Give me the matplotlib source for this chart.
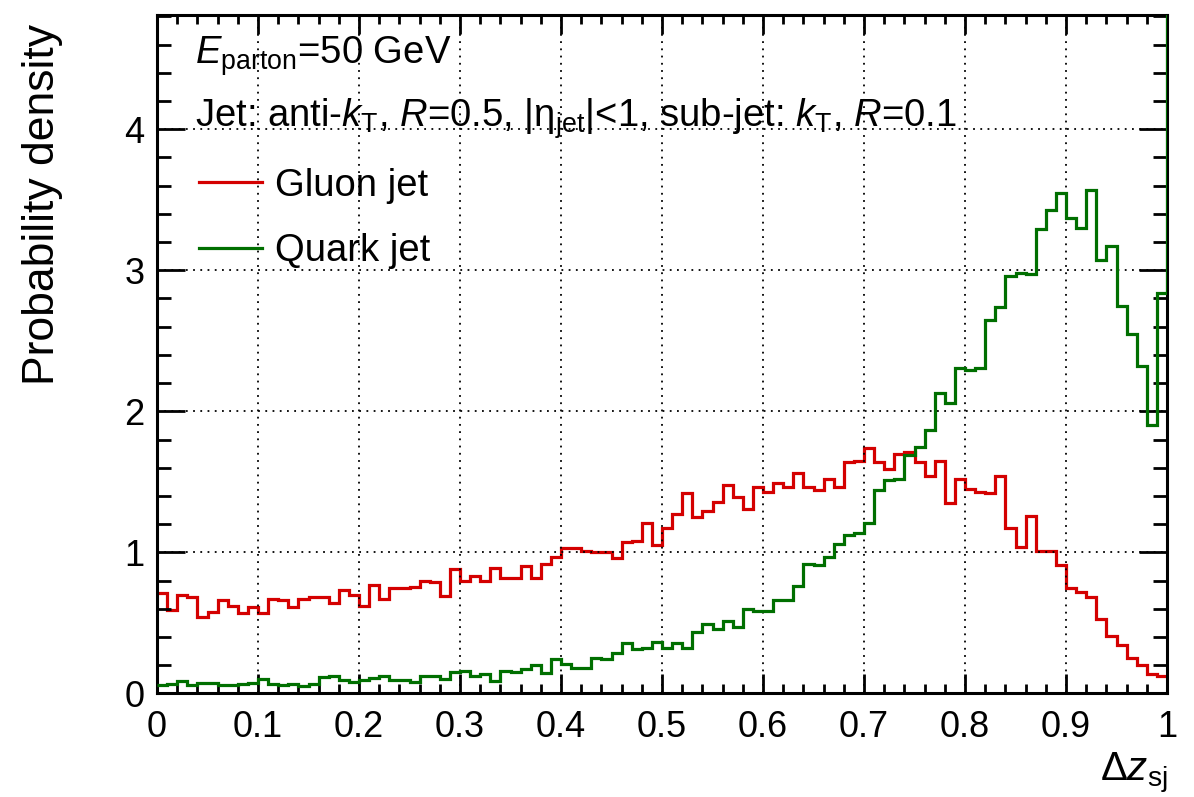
import numpy as np
import matplotlib.pyplot as plt
from matplotlib.ticker import MultipleLocator

plt.rcParams['font.family'] = 'Liberation Sans'
plt.rcParams['mathtext.fontset'] = 'custom'
plt.rcParams['mathtext.rm'] = 'Liberation Sans'
plt.rcParams['mathtext.it'] = 'Liberation Sans:italic'
plt.rcParams['mathtext.bf'] = 'Liberation Sans:bold'

# dz_sj in 100 bins of 0.01; the quark histogram keeps its overflow bin at dz_sj = 1
edges = np.linspace(0, 1.01, 102)

gluon = [0.71, 0.59, 0.70, 0.68, 0.54, 0.58, 0.66, 0.62, 0.57, 0.61,
         0.57, 0.67, 0.66, 0.61, 0.67, 0.68, 0.68, 0.64, 0.73, 0.70,
         0.62, 0.77, 0.67, 0.75, 0.745, 0.756, 0.80, 0.79, 0.69, 0.88,
         0.80, 0.83, 0.80, 0.89, 0.82, 0.82, 0.90, 0.82, 0.92, 0.97,
         1.03, 1.03, 1.01, 1.00, 1.00, 0.96, 1.07, 1.08, 1.21, 1.05,
         1.17, 1.27, 1.42, 1.25, 1.29, 1.36, 1.48, 1.39, 1.31, 1.46,
         1.43, 1.49, 1.46, 1.56, 1.46, 1.44, 1.52, 1.46, 1.64, 1.65,
         1.74, 1.64, 1.59, 1.70, 1.71, 1.64, 1.54, 1.65, 1.35, 1.52,
         1.45, 1.43, 1.42, 1.54, 1.17, 1.04, 1.26, 1.01, 1.01, 0.91,
         0.75, 0.72, 0.68, 0.53, 0.41, 0.34, 0.25, 0.20, 0.14, 0.12]

quark = [0.060, 0.070, 0.088, 0.057, 0.076, 0.076, 0.060, 0.057, 0.070, 0.075,
         0.100, 0.065, 0.062, 0.065, 0.052, 0.070, 0.116, 0.120, 0.097, 0.080,
         0.097, 0.110, 0.126, 0.097, 0.097, 0.080, 0.126, 0.126, 0.100, 0.152,
         0.160, 0.120, 0.140, 0.085, 0.160, 0.152, 0.170, 0.200, 0.145, 0.247,
         0.210, 0.180, 0.180, 0.254, 0.245, 0.287, 0.360, 0.313, 0.320, 0.365,
         0.320, 0.355, 0.320, 0.437, 0.490, 0.460, 0.510, 0.470, 0.596, 0.584,
         0.584, 0.660, 0.660, 0.760, 0.920, 0.910, 0.970, 1.060, 1.125, 1.140,
         1.210, 1.440, 1.510, 1.520, 1.690, 1.750, 1.870, 2.130, 2.060, 2.310,
         2.290, 2.310, 2.645, 2.740, 2.960, 2.980, 2.970, 3.290, 3.430, 3.550,
         3.370, 3.300, 3.570, 3.070, 3.170, 2.750, 2.550, 2.320, 1.900, 2.840,
         12.0]

red = '#d40000'
green = '#006f00'

fig = plt.figure(figsize=(11.94, 7.97), dpi=100)
ax = fig.add_axes([0.1315, 0.130, 0.8459, 0.8512])

ax.stairs(gluon, edges[:101], baseline=None, color=red, lw=2.3, label='Gluon jet')
ax.stairs(quark, edges, baseline=None, color=green, lw=2.3, label='Quark jet', zorder=3)

ax.set_xlim(0, 1)
ax.set_ylim(0, 4.81)

ax.xaxis.set_major_locator(MultipleLocator(0.1))
ax.xaxis.set_minor_locator(MultipleLocator(0.02))
ax.yaxis.set_major_locator(MultipleLocator(1))
ax.yaxis.set_minor_locator(MultipleLocator(0.2))
ax.set_xticks(np.arange(0, 1.01, 0.1))
ax.set_xticklabels(['0', '0.1', '0.2', '0.3', '0.4', '0.5', '0.6', '0.7', '0.8', '0.9', '1'])

ax.tick_params(which='both', direction='in', top=True, right=True, width=2, labelsize=26)
ax.tick_params(axis='x', which='major', length=13.5, pad=12)
ax.tick_params(axis='x', which='minor', length=6.5)
ax.tick_params(axis='y', which='major', length=20, pad=9)
ax.tick_params(axis='y', which='minor', length=10)

for s in ax.spines.values():
    s.set_linewidth(2.2)

ax.grid(True, which='major', color='black', linestyle=(0, (1, 3)), linewidth=1.3)

ax.set_ylabel('Probability density', fontsize=32)
ax.yaxis.set_label_coords(-0.093, 0.72)
ax.set_xlabel(r'$\Delta z_{\mathrm{sj}}$', fontsize=29, loc='right')
ax.xaxis.set_label_coords(1.0, -0.083)

ax.text(0.0376, 0.928, r'$E_{\mathrm{parton}}$=50 GeV', transform=ax.transAxes,
        fontsize=27.5, va='baseline', ha='left')
ax.text(0.0376, 0.835,
        r'Jet: anti-$k_{\mathrm{T}}$, $R$=0.5, $|\mathrm{\eta}_{\mathrm{jet}}|$<1, '
        r'sub-jet: $k_{\mathrm{T}}$, $R$=0.1',
        transform=ax.transAxes, fontsize=27.5, va='baseline', ha='left')

ax.legend(loc='upper left', bbox_to_anchor=(0.0416, 0.775), frameon=False,
          fontsize=27.5, handlelength=1.65, handletextpad=0.35, labelspacing=0.78,
          borderpad=0, borderaxespad=0)

fig.savefig('out.png', dpi=100)
